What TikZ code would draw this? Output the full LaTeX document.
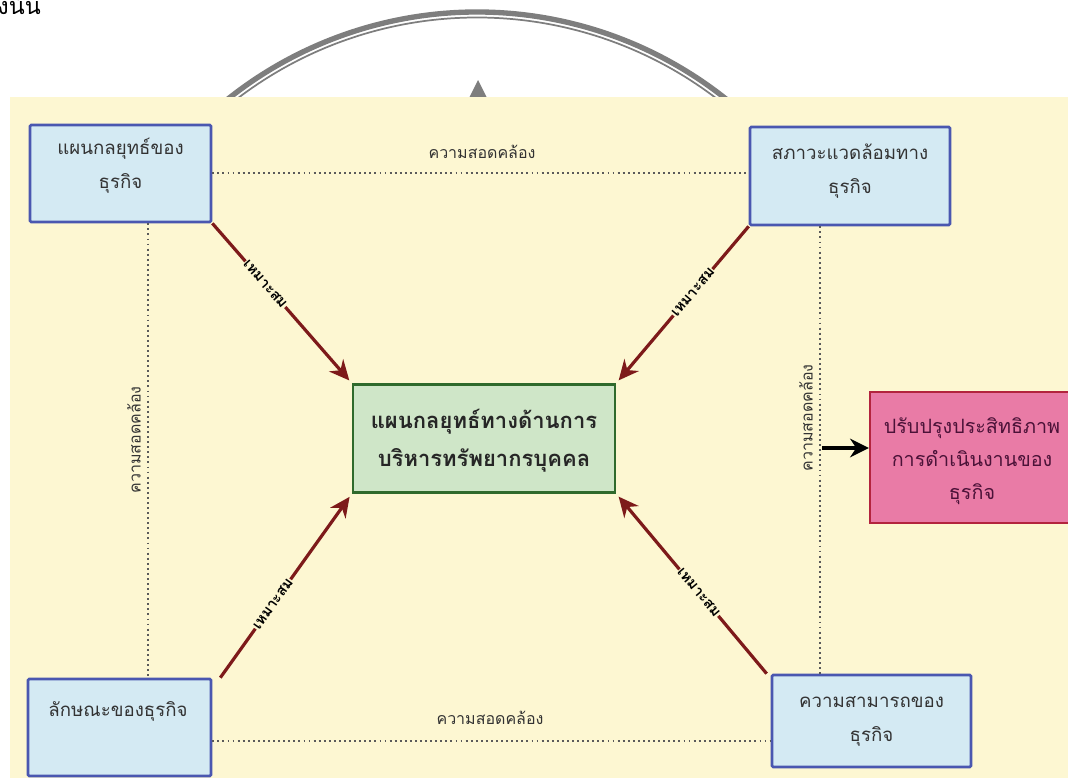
\documentclass[tikz,border=0pt]{standalone}
\usepackage{fontspec}
\newfontfamily\thai[Script=Thai]{Loma}
\usetikzlibrary{arrows.meta}

\definecolor{paper}{HTML}{FDF7D2}
\definecolor{arcgray}{HTML}{7E7E7E}
\definecolor{boxfill}{HTML}{D4EAF3}
\definecolor{boxedge}{HTML}{4A57B0}
\definecolor{midfill}{HTML}{CFE6C8}
\definecolor{midedge}{HTML}{2F6A2C}
\definecolor{pinkfill}{HTML}{E97BA6}
\definecolor{pinkedge}{HTML}{B3243E}
\definecolor{pinktext}{HTML}{4B1238}
\definecolor{linkred}{HTML}{7D1A1A}
\definecolor{dotgray}{HTML}{5A5A5A}
\definecolor{inktext}{HTML}{333333}

\begin{document}
\begin{tikzpicture}[x=0.75pt,y=-0.75pt,
  bluebox/.style={draw=boxedge, fill=boxfill, line width=2pt, rounded corners=1pt},
  boxtext/.style={font=\thai\fontsize{14}{25.5}\selectfont, text=inktext, align=center, inner sep=0pt},
  midbox/.style={draw=midedge, fill=midfill, line width=1.6pt},
  midtext/.style={font=\thai\bfseries\fontsize{16.5}{28.5}\selectfont, text=black!85, align=center, inner sep=0pt},
  pinkbox/.style={draw=pinkedge, fill=pinkfill, line width=1.8pt},
  pinktxt/.style={font=\thai\fontsize{14.8}{25}\selectfont, text=pinktext, align=center, inner sep=0pt},
  dotline/.style={draw=dotgray, line width=1.2pt, dash pattern=on 1.4pt off 2.4pt},
  fitlabel/.style={font=\thai\fontsize{12}{14}\selectfont, text=inktext, inner sep=1pt},
  linkarrow/.style={draw=linkred, line width=2.4pt, -{Stealth[length=15pt,width=14pt]}},
  slopetag/.style={sloped, font=\thai\bfseries\fontsize{11}{12}\selectfont, text=black,
    fill=paper, inner sep=0.5pt}
]
\useasboundingbox (0,0) rectangle (1068,778);

% running text above the figure
\node[anchor=base east, font=\thai\fontsize{17.5}{20}\selectfont, inner sep=0pt] (lead) at (41,14) {ดังนั้น};

% grey double arc behind the panel
\coordinate (arcc) at (477,412);
\draw[arcgray, line width=4pt] ([shift={(-140:400)}]arcc) arc[start angle=-140, end angle=-40, radius=400];
\draw[arcgray, line width=1.3pt] ([shift={(-140:394.5)}]arcc) arc[start angle=-140, end angle=-40, radius=394.5];
\fill[arcgray] (469,98) -- (478,80) -- (487,98) -- cycle;

% panel background
\fill[paper] (10,97) rectangle (1068,778);

% boxes
\node[bluebox, minimum width=135.75pt, minimum height=72.75pt] (tl) at (120.5,173.5) {};
\node[bluebox, minimum width=150pt, minimum height=73.5pt] (tr) at (850,176) {};
\node[bluebox, minimum width=137.25pt, minimum height=72.75pt] (bl) at (119.5,727.5) {};
\node[bluebox, minimum width=149.25pt, minimum height=69pt] (br) at (871.5,721) {};
\node[midbox, minimum width=196.5pt, minimum height=81pt] (mid) at (484,438.5) {};
\node[pinkbox, minimum width=151.5pt, minimum height=98.25pt] (out) at (971,457.5) {};

% box captions
\node[boxtext] (tlt) at (tl.center |- 0,166) {แผนกลยุทธ์ของ\\ธุรกิจ};
\node[boxtext] (trt) at (tr.center |- 0,171) {สภาวะแวดล้อมทาง\\ธุรกิจ};
\node[boxtext] (blt) at (118,711) {ลักษณะของธุรกิจ};
\node[boxtext] (brt) at (br.center |- 0,721) {ความสามารถของ\\ธุรกิจ};
\node[midtext] (midt) at (mid.center |- 0,441) {แผนกลยุทธ์ทางด้านการ\\บริหารทรัพยากรบุคคล};
\node[pinktxt] (outt) at (972,461) {ปรับปรุงประสิทธิภาพ\\การดำเนินงานของ\\ธุรกิจ};

% dotted consistency links
\draw[dotline] (tl.east |- 0,173) -- (tr.west |- 0,173);
\draw[dotline] (bl.east |- 0,741) -- (br.west |- 0,741);
\draw[dotline] (tl.south -| 148,0) -- (bl.north -| 148,0);
\draw[dotline] (tr.south -| 820,0) -- (br.north -| 820,0);
\node[fitlabel] (ltop) at (482,152) {ความสอดคล้อง};
\node[fitlabel] (lbot) at (490,718) {ความสอดคล้อง};
\node[fitlabel, rotate=90] (lleft) at (134,440) {ความสอดคล้อง};
\node[fitlabel, rotate=90] (lright) at (806,418) {ความสอดคล้อง};

% fitting links into the HR strategy
\draw[linkarrow, shorten >=3pt] (tl.south east) -- node[slopetag, pos=0.38] (f1) {เหมาะสม} (mid.north west);
\draw[linkarrow, shorten >=3pt] (tr.south west) -- node[slopetag, pos=0.42] (f2) {เหมาะสม} (mid.north east);
\draw[linkarrow, shorten >=3pt] ([xshift=6pt]bl.north east) -- node[slopetag, pos=0.4] (f3) {เหมาะสม} (mid.south west);
\draw[linkarrow, shorten >=3pt] ([xshift=-3pt]br.north west) -- node[slopetag, pos=0.45] (f4) {เหมาะสม} (mid.south east);

% result arrow
\coordinate (outfrom) at (822,448);
\draw[black, line width=3pt, -{Stealth[length=14pt,width=14pt]}] (outfrom) -- (out.west |- outfrom);
\end{tikzpicture}
\end{document}
